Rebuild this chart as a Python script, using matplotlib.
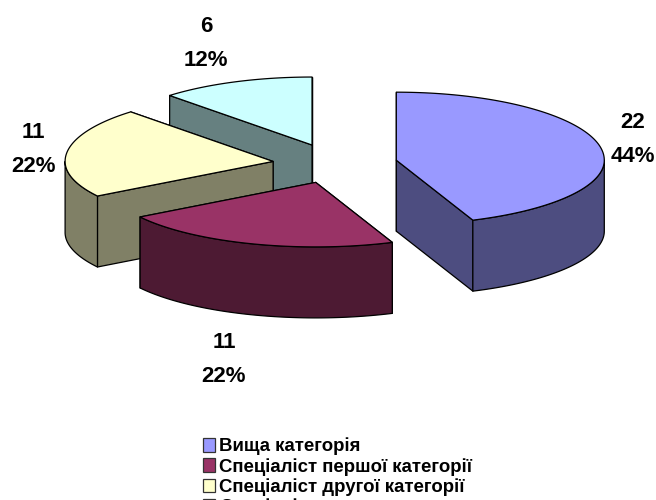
"""
Exploded 3D style pie of staff categories, projected by hand onto an ellipse.
"""

import numpy as np
import matplotlib.pyplot as plt
from matplotlib.patches import Patch, Polygon

categories = ['Вища категорія', 'Спеціаліст першої категорії',
              'Спеціаліст другої категорії', 'Спеціаліст']
values = [22, 11, 11, 6]
percents = ['44%', '22%', '22%', '12%']
top_colors = ['#9999FF', '#993366', '#FFFFCC', '#CCFFFF']
side_colors = ['#4D4D80', '#4D1A33', '#808066', '#668080']
label_pos = [(633, 138), (224, 358), (33, 147), (206, 41)]

CX, CY = 335, 164
RX = 208
RY_BACK, RY_FRONT = 68, 64.5  # front half looks a bit flatter in the original
DEPTH = 71
EXPLODE = 0.3
LW = 0.9
FONT = 'Liberation Sans'


def ell(a, cx, cy):
    """Point on the pie ellipse, angle in degrees clockwise from 12 o'clock."""
    r = np.radians(a)
    c = np.cos(r)
    return np.column_stack([cx + RX * np.sin(r), cy - np.where(c > 0, RY_BACK, RY_FRONT) * c])


def face(ax, pts, color, z):
    ax.add_patch(Polygon(pts, closed=True, facecolor=color, edgecolor='black',
                         linewidth=LW, joinstyle='round', zorder=z))


def draw_slice(ax, start, end, top, side, z):
    mid = (start + end) / 2
    off = ell(np.array([mid]), 0, 0)[0] * EXPLODE
    cx, cy = CX + off[0], CY + off[1]
    drop = np.array([0, DEPTH])
    apex = np.array([[cx, cy]])

    # cut faces, the one nearer the back goes first
    for a in sorted([start, end], key=lambda x: -np.cos(np.radians(x))):
        edge = np.vstack([apex, ell(np.array([a]), cx, cy)])
        face(ax, np.vstack([edge, edge[::-1] + drop]), side, z)

    # outer wall, front half of the ellipse only
    lo, hi = max(start, 90), min(end, 270)
    if hi > lo:
        arc = ell(np.linspace(lo, hi, 80), cx, cy)
        face(ax, np.vstack([arc, arc[::-1] + drop]), side, z)

    arc = ell(np.linspace(start, end, 120), cx, cy)
    face(ax, np.vstack([apex, arc]), top, z)


plt.rcParams['font.family'] = [FONT, 'DejaVu Sans']
fig = plt.figure(figsize=(6.56, 5), dpi=100)
ax = fig.add_axes([0, 0, 1, 1])
ax.set_xlim(0, 656)
ax.set_ylim(500, 0)
ax.axis('off')

edges = np.concatenate([[0], np.cumsum(values)]) * 360 / sum(values)
for z, i in enumerate([3, 2, 0, 1]):
    draw_slice(ax, edges[i], edges[i + 1], top_colors[i], side_colors[i], z + 1)

for v, p, (x, y) in zip(values, percents, label_pos):
    ax.text(x, y - 15, str(v), ha='center', va='center', fontsize=16, fontweight='bold')
    ax.text(x, y + 19, p, ha='center', va='center', fontsize=16, fontweight='bold')

handles = [Patch(facecolor=c, edgecolor='#333333', linewidth=0.9) for c in top_colors]
ax.legend(handles, categories, loc='upper left', bbox_to_anchor=(203, 437.5),
          bbox_transform=ax.transData, frameon=False, borderpad=0, borderaxespad=0,
          prop={'weight': 'bold', 'size': 13.4}, labelspacing=0.14,
          handlelength=0.65, handleheight=0.76, handletextpad=0.2)

fig.savefig('out.png', dpi=100)
